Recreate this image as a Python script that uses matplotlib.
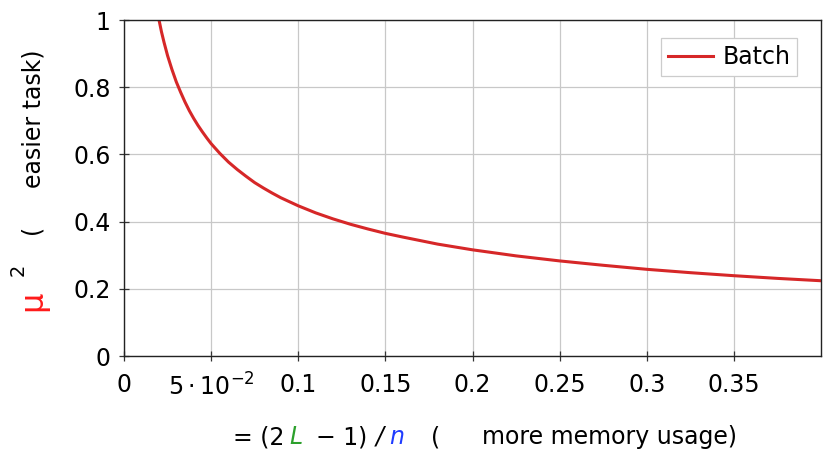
import matplotlib

matplotlib.use("Agg")
import matplotlib.pyplot as plt

# values
ratio = [0.0201, 0.0215, 0.023, 0.025, 0.0275, 0.03, 0.0325, 0.035, 0.0375, 0.04, 0.0425,
         0.045, 0.0475, 0.05, 0.055, 0.06, 0.065, 0.07, 0.075, 0.08, 0.085, 0.09, 0.095,
         0.1, 0.11, 0.12, 0.13, 0.14, 0.15, 0.16, 0.18, 0.2, 0.225, 0.25, 0.275, 0.3,
         0.325, 0.35, 0.375, 0.4]
mu_sq = [1.0, 0.965, 0.933, 0.894, 0.853, 0.816, 0.785, 0.756, 0.730, 0.707, 0.686,
         0.667, 0.649, 0.632, 0.603, 0.577, 0.555, 0.535, 0.516, 0.5, 0.485, 0.471, 0.459,
         0.447, 0.426, 0.408, 0.392, 0.378, 0.365, 0.354, 0.333, 0.316, 0.298, 0.283,
         0.270, 0.258, 0.248, 0.239, 0.231, 0.224]
xticks = [0, 0.05, 0.1, 0.15, 0.2, 0.25, 0.3, 0.35]
xticklabels = ["0", r"$5\cdot10^{-2}$", "0.1", "0.15", "0.2", "0.25", "0.3", "0.35"]
yticks = [0, 0.2, 0.4, 0.6, 0.8, 1]
yticklabels = ["0", "0.2", "0.4", "0.6", "0.8", "1"]

W, H = 823, 450
plt.rcParams["font.family"] = ["DejaVu Sans"]
plt.rcParams["mathtext.fontset"] = "dejavusans"
fs = 17

fig = plt.figure(figsize=(W / 100, H / 100), dpi=100)
ax = fig.add_axes([124 / W, 1 - 356 / H, (821 - 124) / W, (356 - 20) / H])

ax.plot(ratio, mu_sq, color="#d62728", linewidth=2.2, label="Batch")
ax.set_xlim(0, 0.4)
ax.set_ylim(0, 1)
ax.set_xticks(xticks)
ax.set_xticklabels(xticklabels)
ax.set_yticks(yticks)
ax.set_yticklabels(yticklabels)
ax.grid(True, color="#c8c8c8", linewidth=0.9)
ax.set_axisbelow(True)
ax.tick_params(direction="inout", length=7, width=0.9, color="#333333", labelsize=fs)
ax.tick_params(axis="x", pad=9)
ax.tick_params(axis="y", pad=6)
for side in ["left", "top", "bottom", "right"]:
    ax.spines[side].set_color("#222222")
    ax.spines[side].set_linewidth(1.0)

leg = ax.legend(loc="upper right", fontsize=fs, fancybox=False, framealpha=1,
                edgecolor="#cccccc", handlelength=1.9, handletextpad=0.4,
                borderpad=0.3, bbox_to_anchor=(0.983, 0.982))
leg.get_frame().set_linewidth(0.9)


def px(x, y):
    return x / W, 1 - y / H


# x axis label, built piece by piece for the coloured letters
ylab = 437
parts = [
    ("= (2", 233, "black", "normal"),
    ("L", 289, "#2ca02c", "italic"),
    ("\u2212 1)", 316, "black", "normal"),
    ("/", 376, "black", "italic"),
    ("n", 389, "#1f3cff", "italic"),
    ("(", 431, "black", "normal"),
    ("more memory usage)", 482, "black", "normal"),
]
for txt, x, col, st in parts:
    fig.text(*px(x, ylab), txt, color=col, style=st, fontsize=fs, ha="left", va="center")

# y axis label pieces (rotated)
fig.text(*px(33, 301), "\u03bc", color="#ff1a1a", fontsize=fs + 6, rotation=90,
         ha="center", va="center")
fig.text(*px(18, 270), "2", color="black", fontsize=fs - 3, rotation=90,
         ha="center", va="center")
fig.text(*px(31, 229), "(", color="black", fontsize=fs, rotation=90,
         ha="center", va="center")
fig.text(*px(33, 119), "easier task)", color="black", fontsize=fs, rotation=90,
         ha="center", va="center")

fig.savefig("out.png", dpi=100)
plt.close(fig)
